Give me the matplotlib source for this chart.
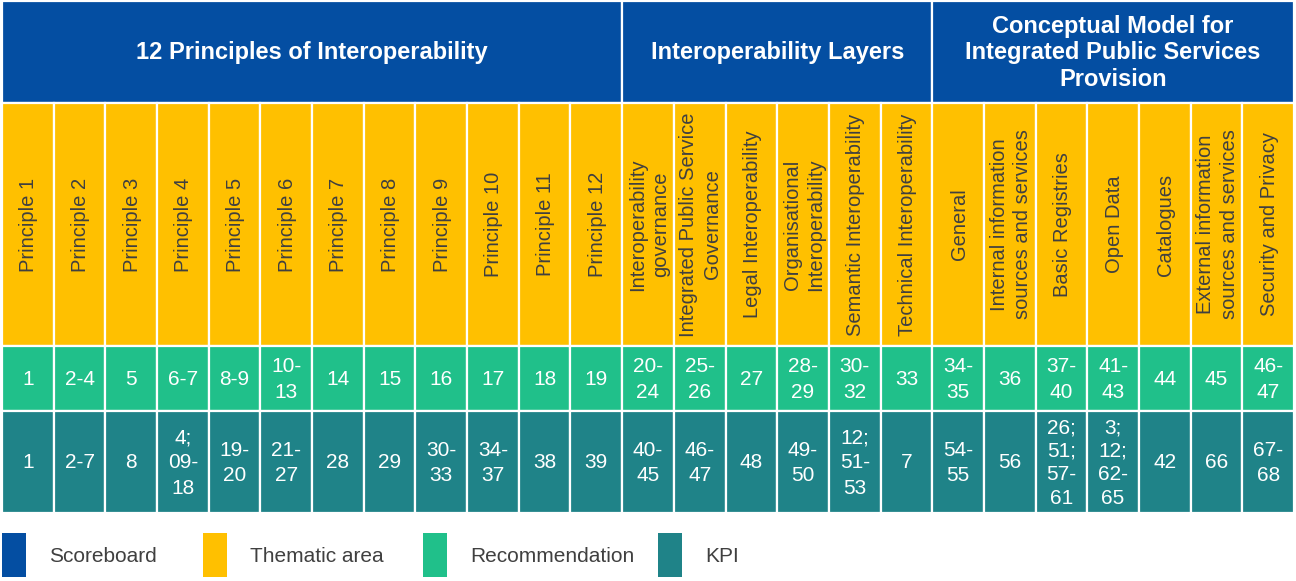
import matplotlib
matplotlib.use("Agg")
import matplotlib.pyplot as plt
from matplotlib.patches import Rectangle

# scoreboard groups and how many thematic areas each one spans
groups = ["12 Principles of Interoperability",
          "Interoperability Layers",
          "Conceptual Model for\nIntegrated Public Services\nProvision"]
group_sizes = [12, 6, 7]

areas = ["Principle 1", "Principle 2", "Principle 3", "Principle 4", "Principle 5",
         "Principle 6", "Principle 7", "Principle 8", "Principle 9", "Principle 10",
         "Principle 11", "Principle 12",
         "Interoperability\ngovernance", "Integrated Public Service\nGovernance",
         "Legal Interoperability", "Organisational\nInteroperability",
         "Semantic Interoperability", "Technical Interoperability",
         "General", "Internal information\nsources and services", "Basic Registries",
         "Open Data", "Catalogues", "External information\nsources and services",
         "Security and Privacy"]

recommendations = ["1", "2-4", "5", "6-7", "8-9", "10-\n13", "14", "15", "16", "17", "18", "19",
                   "20-\n24", "25-\n26", "27", "28-\n29", "30-\n32", "33",
                   "34-\n35", "36", "37-\n40", "41-\n43", "44", "45", "46-\n47"]

kpis = ["1", "2-7", "8", "4;\n09-\n18", "19-\n20", "21-\n27", "28", "29", "30-\n33", "34-\n37",
        "38", "39",
        "40-\n45", "46-\n47", "48", "49-\n50", "12;\n51-\n53", "7",
        "54-\n55", "56", "26;\n51;\n57-\n61", "3;\n12;\n62-\n65", "42", "66", "67-\n68"]

legend_labels = ["Scoreboard", "Thematic area", "Recommendation", "KPI"]

BLUE = "#044EA2"
YELLOW = "#FFC000"
GREEN = "#20C08A"
TEAL = "#1F8388"
GREY = "#404040"
legend_colors = [BLUE, YELLOW, GREEN, TEAL]

fig = plt.figure(figsize=(12.96, 5.81), dpi=100)
ax = fig.add_axes([0, 0, 1, 1])
ax.set_xlim(0, 1296)
ax.set_ylim(581, 0)
ax.axis("off")

x0, x1 = 2, 1294
col_w = (x1 - x0) / len(areas)
# row edges (pixels from top): header, thematic area, recommendation, KPI
row_edges = [1, 103, 346, 411, 513]

num_font = dict(family=["Liberation Sans", "DejaVu Sans"], fontsize=15, color="white")


def cell(x, y, w, h, color):
    ax.add_patch(Rectangle((x, y), w, h, facecolor=color, edgecolor="white", linewidth=1.6))


def spacing(label):
    # the four-line KPI cells are packed tighter than the two-line ones
    return 1.3 if label.count("\n") >= 3 else 1.42


# header row
start = 0
for name, n in zip(groups, group_sizes):
    x = x0 + start * col_w
    y, h = row_edges[0], row_edges[1] - row_edges[0]
    cell(x, y, n * col_w, h, BLUE)
    ax.text(x + n * col_w / 2, y + h / 2 + 1, name, ha="center", va="center",
            multialignment="center", color="white", fontsize=17, fontweight="bold",
            family=["Liberation Sans", "DejaVu Sans"], linespacing=1.22)
    start += n

for i, (area, rec, kpi) in enumerate(zip(areas, recommendations, kpis)):
    x = x0 + i * col_w
    cx = x + col_w / 2
    # thematic area
    y, h = row_edges[1], row_edges[2] - row_edges[1]
    cell(x, y, col_w, h, YELLOW)
    ax.text(cx + 1, y + h / 2, area, rotation=90, ha="center", va="center",
            multialignment="center", color=GREY, fontsize=14.5,
            family=["Liberation Sans", "DejaVu Sans"], linespacing=1.3)
    # recommendation
    y, h = row_edges[2], row_edges[3] - row_edges[2]
    cell(x, y, col_w, h, GREEN)
    ax.text(cx, y + h / 2 + 1, rec, ha="center", va="center",
            linespacing=spacing(rec), **num_font)
    # KPI
    y, h = row_edges[3], row_edges[4] - row_edges[3]
    cell(x, y, col_w, h, TEAL)
    ax.text(cx, y + h / 2 + 1, kpi, ha="center", va="center",
            linespacing=spacing(kpi), **num_font)

# legend
legend_x = [2, 203, 423, 658]
for lx, label, color in zip(legend_x, legend_labels, legend_colors):
    ax.add_patch(Rectangle((lx, 533), 24, 44, facecolor=color, edgecolor="none"))
    ax.text(lx + 47, 556, label, ha="left", va="center", color=GREY, fontsize=15,
            family=["Liberation Sans", "DejaVu Sans"])

fig.savefig("out.png", dpi=100, facecolor="white")
